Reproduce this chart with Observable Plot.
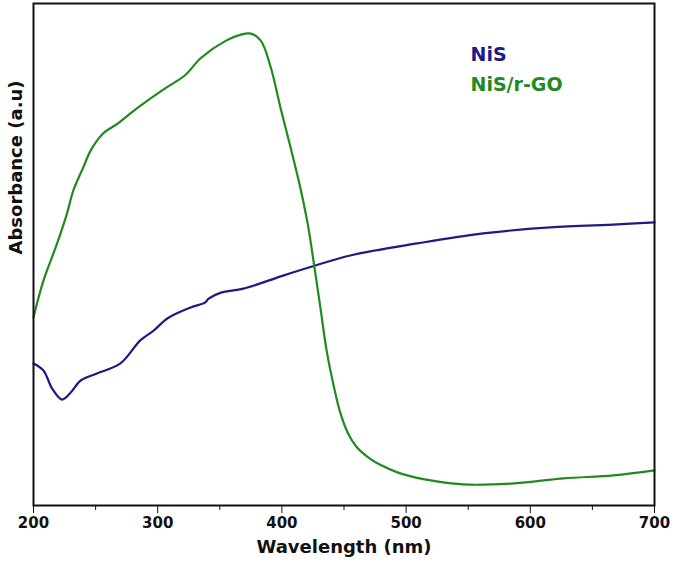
<!DOCTYPE html>
<html>
<head>
<meta charset="utf-8">
<script src="https://cdn.jsdelivr.net/npm/d3@7"></script>
<script src="https://cdn.jsdelivr.net/npm/@observablehq/plot@0.6"></script>
<style>
  html, body { margin: 0; padding: 0; background: #fff; }
  #chart { width: 685px; height: 571px; }
</style>
</head>
<body>
<div id="chart"></div>
<script>
// Wavelength (nm) and absorbance (a.u.)
const nisWavelength = [200, 208, 215, 223, 230, 238, 251, 270, 286, 297, 308, 326, 338, 341, 351, 369, 401, 427, 455, 509, 562, 616, 670, 700];
const nisAbsorbance = [0.283, 0.269, 0.233, 0.211, 0.225, 0.249, 0.263, 0.283, 0.329, 0.349, 0.373, 0.394, 0.404, 0.412, 0.424, 0.432, 0.458, 0.478, 0.498, 0.522, 0.542, 0.554, 0.560, 0.564];

const rgoWavelength = [200, 208, 219, 227, 232, 240, 246, 256, 268, 278, 292, 306, 322, 335, 355, 367, 375, 383, 391, 399, 407, 415, 421, 426, 431, 436, 442, 447, 453, 460, 470, 480, 493, 515, 546, 587, 627, 667, 700];
const rgoAbsorbance = [0.375, 0.448, 0.522, 0.582, 0.627, 0.673, 0.707, 0.741, 0.761, 0.781, 0.807, 0.831, 0.857, 0.892, 0.926, 0.938, 0.940, 0.926, 0.873, 0.791, 0.713, 0.631, 0.558, 0.478, 0.394, 0.309, 0.235, 0.185, 0.145, 0.117, 0.095, 0.080, 0.066, 0.052, 0.042, 0.044, 0.054, 0.060, 0.070];

const seriesNames = ["NiS", "NiS/r-GO"];
const seriesColors = ["#1c1c84", "#1f8a1f"];
const majorTicks = [200, 300, 400, 500, 600, 700];
const minorTicks = [250, 350, 450, 550, 650];

const nisData = nisWavelength.map((w, i) => ({w, a: nisAbsorbance[i]}));
const rgoData = rgoWavelength.map((w, i) => ({w, a: rgoAbsorbance[i]}));

const font = "'DejaVu Sans', sans-serif";

const chart = Plot.plot({
  width: 685,
  height: 571,
  marginLeft: 33,
  marginRight: 31,
  marginTop: 3,
  marginBottom: 66,
  style: {fontFamily: font, background: "#fff"},
  x: {domain: [200, 700]},
  y: {domain: [0, 1], axis: null},
  marks: [
    Plot.line(nisData, {x: "w", y: "a", stroke: seriesColors[0], strokeWidth: 2.2, curve: "catmull-rom"}),
    Plot.line(rgoData, {x: "w", y: "a", stroke: seriesColors[1], strokeWidth: 2.2, curve: "catmull-rom"}),
    Plot.axisX({ticks: minorTicks, tickSize: 5, tickWidth: 1.6, stroke: "#111", text: null, label: null}),
    Plot.axisX({ticks: majorTicks, tickSize: 8, tickWidth: 1.8, stroke: "#111", tickPadding: 4,
      fontSize: 15, fontWeight: "bold", fill: "#111", label: null}),
    Plot.text(["Wavelength (nm)"], {frameAnchor: "bottom", dy: 47, fontSize: 18, fontWeight: "bold", fill: "#111", text: d => d}),
    Plot.text(["Absorbance (a.u)"], {frameAnchor: "left", dx: -17, rotate: -90, fontSize: 18, fontWeight: "bold", fill: "#111", text: d => d}),
    Plot.text([seriesNames[0]], {frameAnchor: "top-left", text: d => d, fill: seriesColors[0], dx: 437, dy: 44,
      fontSize: 19, fontWeight: "bold", textAnchor: "start"}),
    Plot.text([seriesNames[1]], {frameAnchor: "top-left", text: d => d, fill: seriesColors[1], dx: 437, dy: 74,
      fontSize: 19, fontWeight: "bold", textAnchor: "start"}),
    Plot.frame({stroke: "#111", strokeWidth: 2})
  ]
});
document.getElementById("chart").appendChild(chart);
</script>
</body>
</html>
